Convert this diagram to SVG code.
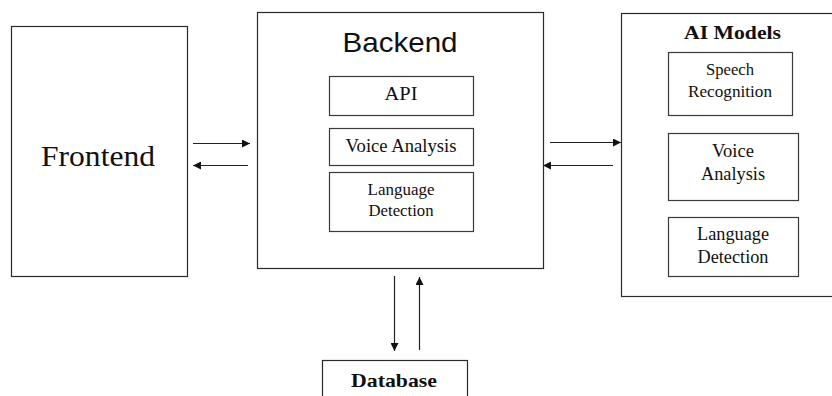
<svg xmlns="http://www.w3.org/2000/svg" width="832" height="396" viewBox="0 0 832 396">
<defs>
<style>
.box{fill:#fff;stroke:#2a2a2a;stroke-width:1.2}
.sub{fill:#fff;stroke:#3a3a3a;stroke-width:1.2}
.serif{font-family:"Liberation Serif","Times New Roman",serif;fill:#111;text-anchor:middle}
.bold{font-weight:bold}
.sans{font-family:"Liberation Sans",Arial,sans-serif;fill:#111;text-anchor:middle}
.conn{stroke:#222;stroke-width:1.2;fill:none}
</style>
<marker id="ah" viewBox="0 0 10 10" refX="10" refY="5" markerWidth="9" markerHeight="8" markerUnits="userSpaceOnUse" orient="auto">
<path d="M0,0 L10,5 L0,10 z" fill="#111"/>
</marker>
</defs>
<rect width="832" height="396" fill="#fff"/>

<g id="frontend">
<rect class="box" x="11.5" y="26.5" width="176" height="250"/>
<text class="serif" x="98" y="166" font-size="30" textLength="114" lengthAdjust="spacingAndGlyphs">Frontend</text>
</g>

<g id="backend">
<rect class="box" x="257.5" y="12.5" width="286" height="256"/>
<text class="sans" x="400" y="52" font-size="28" textLength="115" lengthAdjust="spacingAndGlyphs">Backend</text>
<g id="backend-api">
<rect class="sub" x="329.5" y="76.5" width="144" height="39"/>
<text class="serif" x="401" y="100" font-size="18" textLength="33" lengthAdjust="spacingAndGlyphs">API</text>
</g>
<g id="backend-voice">
<rect class="sub" x="329.5" y="128.5" width="144" height="37"/>
<text class="serif" x="401" y="152" font-size="18" textLength="111" lengthAdjust="spacingAndGlyphs">Voice Analysis</text>
</g>
<g id="backend-lang">
<rect class="sub" x="329.5" y="172.5" width="144" height="59"/>
<text class="serif" x="401" y="195" font-size="17" textLength="67" lengthAdjust="spacingAndGlyphs">Language</text>
<text class="serif" x="401" y="216" font-size="17" textLength="65" lengthAdjust="spacingAndGlyphs">Detection</text>
</g>
</g>

<g id="ai-models">
<rect class="box" x="621.5" y="13.5" width="230" height="283"/>
<text class="serif bold" x="732.5" y="39" font-size="19" textLength="97" lengthAdjust="spacingAndGlyphs">AI Models</text>
<g id="ai-speech">
<rect class="sub" x="668.5" y="52.5" width="124" height="63"/>
<text class="serif" x="730" y="75" font-size="17" textLength="48" lengthAdjust="spacingAndGlyphs">Speech</text>
<text class="serif" x="730" y="97" font-size="17" textLength="84" lengthAdjust="spacingAndGlyphs">Recognition</text>
</g>
<g id="ai-voice">
<rect class="sub" x="668.5" y="133.5" width="130" height="67"/>
<text class="serif" x="733" y="157" font-size="18" textLength="42" lengthAdjust="spacingAndGlyphs">Voice</text>
<text class="serif" x="733" y="180" font-size="18" textLength="64" lengthAdjust="spacingAndGlyphs">Analysis</text>
</g>
<g id="ai-lang">
<rect class="sub" x="668.5" y="217.5" width="130" height="59"/>
<text class="serif" x="733" y="240" font-size="18" textLength="72" lengthAdjust="spacingAndGlyphs">Language</text>
<text class="serif" x="733" y="263" font-size="18" textLength="71" lengthAdjust="spacingAndGlyphs">Detection</text>
</g>
</g>

<g id="database">
<rect class="box" x="322.5" y="360.5" width="145" height="60"/>
<text class="serif bold" x="394" y="387" font-size="19" textLength="86" lengthAdjust="spacingAndGlyphs">Database</text>
</g>

<g id="connectors">
<line class="conn" x1="193" y1="143.5" x2="250" y2="143.5" marker-end="url(#ah)"/>
<line class="conn" x1="248" y1="165.5" x2="193" y2="165.5" marker-end="url(#ah)" stroke="#555"/>
<line class="conn" x1="550" y1="142.5" x2="621" y2="142.5" marker-end="url(#ah)" stroke-width="1.6"/>
<line class="conn" x1="613" y1="165.5" x2="543" y2="165.5" marker-end="url(#ah)" stroke="#666"/>
<line class="conn" x1="394.5" y1="276" x2="394.5" y2="351" marker-end="url(#ah)" stroke="#333"/>
<line class="conn" x1="419.5" y1="350" x2="419.5" y2="277" marker-end="url(#ah)"/>
</g>
</svg>
